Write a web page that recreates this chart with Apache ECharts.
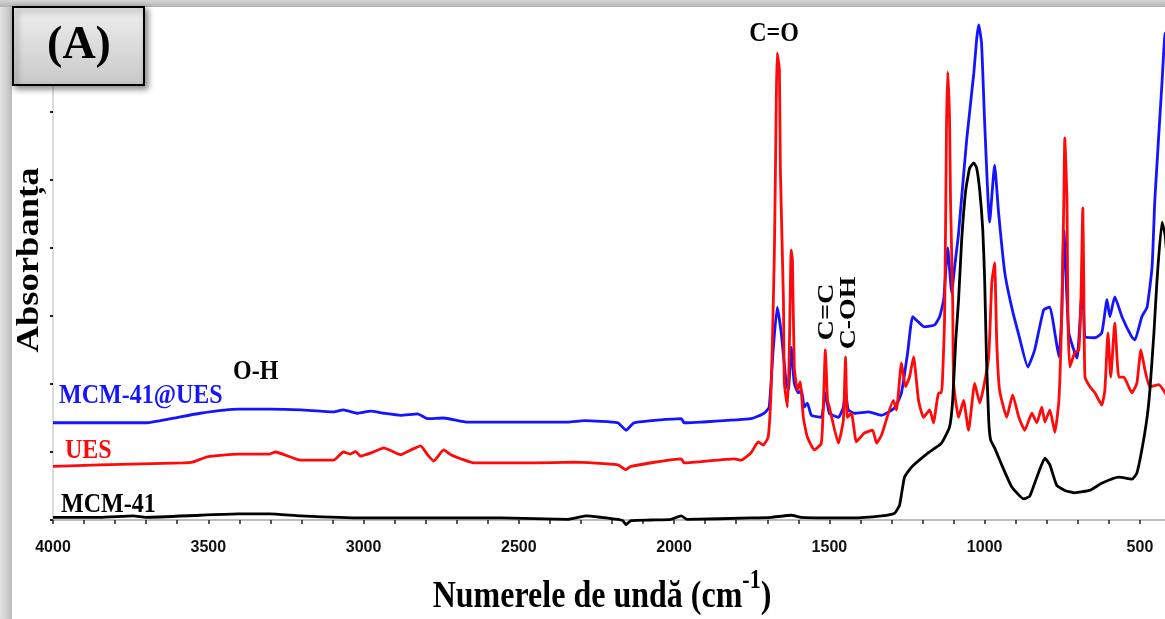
<!DOCTYPE html>
<html>
<head>
<meta charset="utf-8">
<script src="https://cdn.jsdelivr.net/npm/echarts@6/dist/echarts.min.js"></script>
<style>html,body{margin:0;padding:0;background:#fff;}#chart{width:1165px;height:619px;}</style>
</head>
<body>
<div id="chart"></div>
<script>
// ---- data: [wavenumber (cm-1), absorbance (a.u.)] ----
const xTickLabels = [4000, 3500, 3000, 2500, 2000, 1500, 1000, 500];
const seriesNames = ['MCM-41@UES', 'UES', 'MCM-41'];
const bandLabels = ['O-H', 'C=O', 'C=C', 'C-OH'];

const mcm41ues = [
  [4000,1.43],[3848,1.43],[3700,1.43],[3620,1.49],[3526,1.57],[3403,1.63],[3303,1.63],[3203,1.62],[3097,1.59],[3065,1.62],[3019,1.57],[2977,1.60],[2935,1.57],
  [2881,1.54],[2826,1.56],[2794,1.49],[2742,1.50],[2665,1.44],[2558,1.44],[2342,1.44],[2290,1.46],[2181,1.43],[2155,1.32],[2129,1.43],[1977,1.49],[1968,1.43],
  [1913,1.44],[1752,1.49],[1710,1.57],[1694,1.66],[1681,2.50],[1668,3.13],[1655,2.75],[1639,2.01],[1632,1.91],[1623,2.54],[1613,2.01],[1600,1.87],[1590,1.91],
  [1581,1.66],[1571,1.72],[1558,1.54],[1526,1.51],[1513,1.87],[1500,1.57],[1471,1.51],[1455,1.66],[1448,1.88],[1439,1.62],[1419,1.57],[1374,1.59],[1332,1.54],
  [1290,1.65],[1268,1.87],[1248,2.46],[1232,2.99],[1213,2.91],[1194,2.84],[1161,2.87],[1145,2.99],[1132,3.24],[1119,4.00],[1106,3.34],[1097,3.71],[1084,4.22],
  [1058,5.59],[1035,6.57],[1026,7.06],[1019,7.28],[1010,7.01],[1000,5.84],[984,4.38],[968,5.22],[955,4.51],[935,3.63],[913,3.13],[890,2.72],[861,2.25],
  [839,2.50],[810,3.09],[790,3.13],[774,2.75],[761,2.40],[752,2.99],[745,4.26],[729,2.75],[703,2.38],[684,3.57],[677,2.69],[645,2.68],[623,2.75],[606,3.24],
  [597,2.99],[581,3.28],[558,2.99],[526,2.69],[516,2.65],[494,2.99],[477,3.13],[461,3.72],[452,4.71],[429,6.43],[419,7.16],[416,6.99],[413,7.25],[400,7.25]
];

const ues = [
  [4000,0.79],[3848,0.81],[3581,0.84],[3552,0.85],[3503,0.93],[3403,0.97],[3303,0.97],[3284,1.00],[3203,0.88],[3097,0.88],[3065,1.00],[3042,0.97],[3026,1.01],
  [3010,0.94],[2968,1.00],[2935,1.06],[2881,0.96],[2848,1.03],[2816,1.09],[2794,0.96],[2774,0.87],[2742,1.03],[2719,0.96],[2687,0.90],[2645,0.84],[2452,0.84],
  [2323,0.85],[2181,0.81],[2155,0.74],[2139,0.79],[1977,0.90],[1968,0.84],[1806,0.90],[1784,0.88],[1752,0.99],[1729,1.15],[1713,1.10],[1697,1.22],[1687,2.01],
  [1677,3.97],[1671,6.18],[1668,6.87],[1661,6.62],[1658,5.19],[1648,3.24],[1645,2.01],[1635,1.66],[1629,2.50],[1623,3.97],[1619,3.82],[1613,2.25],[1603,1.91],
  [1594,2.03],[1584,1.51],[1571,1.22],[1548,1.03],[1526,1.13],[1519,1.76],[1513,2.50],[1506,1.76],[1500,1.66],[1471,1.13],[1455,1.47],[1448,2.40],[1442,1.51],
  [1429,1.57],[1413,1.15],[1387,1.28],[1361,1.32],[1348,1.13],[1332,1.25],[1294,1.76],[1284,1.62],[1268,2.31],[1255,1.96],[1242,2.10],[1229,2.40],[1213,1.76],
  [1197,1.51],[1177,1.62],[1165,1.43],[1148,1.87],[1139,1.87],[1129,2.99],[1123,5.74],[1119,6.59],[1113,5.88],[1110,4.71],[1103,3.24],[1100,2.01],[1084,1.51],
  [1068,1.76],[1052,1.32],[1032,2.01],[1016,1.72],[1003,1.96],[987,2.40],[977,3.49],[968,3.78],[961,2.60],[952,1.91],[929,1.51],[910,1.84],[890,1.51],[871,1.32],
  [848,1.57],[832,1.43],[816,1.66],[806,1.44],[790,1.62],[774,1.29],[761,1.76],[752,2.99],[745,4.71],[742,5.62],[735,4.71],[732,2.99],[726,2.25],[710,2.46],
  [697,2.50],[690,3.24],[684,4.59],[681,3.53],[677,2.10],[661,1.96],[645,1.87],[623,1.69],[613,1.91],[603,2.75],[594,2.10],[581,2.90],[568,2.10],[552,2.10],
  [526,1.87],[510,2.01],[497,2.50],[484,2.21],[468,1.96],[439,1.99],[419,1.87],[413,1.82],[400,1.80]
];

const mcm41 = [
  [4000,0.04],[3848,0.04],[3742,0.06],[3700,0.04],[3526,0.07],[3403,0.09],[3303,0.09],[3203,0.06],[3003,0.03],[2881,0.03],[2558,0.03],[2342,0.01],[2284,0.06],
  [2236,0.04],[2181,0.01],[2165,-0.01],[2155,-0.07],[2139,-0.01],[2074,0.00],[2010,0.01],[1977,0.06],[1958,0.01],[1752,0.03],[1687,0.04],[1623,0.07],[1590,0.04],
  [1429,0.03],[1332,0.06],[1290,0.10],[1274,0.22],[1258,0.63],[1235,0.78],[1181,0.99],[1139,1.13],[1113,1.37],[1103,1.76],[1093,2.65],[1084,3.24],[1074,4.12],
  [1061,4.85],[1048,5.18],[1035,5.25],[1026,5.18],[1016,4.85],[1006,4.26],[1000,3.53],[994,2.35],[987,1.47],[981,1.18],[968,1.06],[945,0.81],[913,0.49],
  [874,0.31],[855,0.35],[839,0.54],[823,0.74],[806,0.91],[790,0.81],[768,0.51],[740,0.43],[710,0.40],[660,0.44],[623,0.54],[568,0.63],[526,0.60],[510,0.69],
  [494,1.03],[477,1.51],[468,1.91],[455,2.75],[445,3.53],[429,4.38],[419,4.19],[413,3.90],[400,3.70]
];

const chart = echarts.init(document.getElementById('chart'), null, {renderer: 'canvas'});
const serif = '"Liberation Serif", "Times New Roman", serif';

function lbl(text, x, y, color, opts) {
  opts = opts || {};
  return {
    type: 'text', x: x, y: y, z: 50,
    rotation: opts.rotation || 0,
    scaleX: opts.scaleX || 1, scaleY: opts.scaleY || 1,
    style: {
      text: text, x: 0, y: 0, fill: color,
      font: 'bold ' + (opts.size || 24) + 'px ' + serif,
      align: opts.align || 'left', verticalAlign: 'middle',
      rich: opts.rich
    }
  };
}

const option = {
  backgroundColor: '#ffffff',
  animation: false,
  grid: {left: 53, right: -6, top: 10, bottom: 99, containLabel: false, outerBoundsMode: 'none'},
  xAxis: {
    type: 'value', inverse: true, min: 400, max: 4000, interval: 100,
    axisLine: {show: true, lineStyle: {color: '#bdbdbd', width: 2}},
    axisTick: {show: true, inside: false, length: 4, interval: 0, lineStyle: {color: '#222', width: 1.5}},
    axisLabel: {
      interval: 0, margin: 20, color: '#111', fontSize: 16, fontWeight: 'bold',
      fontFamily: '"Liberation Sans", Arial, sans-serif',
      formatter: function (v) { return xTickLabels.indexOf(v) >= 0 ? String(v) : ''; }
    },
    splitLine: {show: false}
  },
  yAxis: {
    type: 'value', min: 0, max: 7.5, interval: 1,
    axisLine: {show: true, lineStyle: {color: '#cfcfcf', width: 1.5}},
    axisTick: {show: true, inside: false, length: 3, lineStyle: {color: '#222', width: 2}},
    axisLabel: {show: false},
    splitLine: {show: false}
  },
  series: [
    {name: seriesNames[0], type: 'line', data: mcm41ues, showSymbol: false, smooth: 0.15, clip: false,
     lineStyle: {color: '#1414ff', width: 2.8}},
    {name: seriesNames[1], type: 'line', data: ues, showSymbol: false, smooth: 0.15, clip: false,
     lineStyle: {color: '#ff0a0a', width: 2.8}},
    {name: seriesNames[2], type: 'line', data: mcm41, showSymbol: false, smooth: 0.15, clip: false,
     lineStyle: {color: '#000000', width: 2.8}}
  ],
  graphic: [
    {type: 'rect', z: 40, shape: {x: 0, y: 0, width: 12, height: 619},
     style: {fill: new echarts.graphic.LinearGradient(0, 0, 1, 0, [{offset: 0, color: '#e2e2e2'}, {offset: 0.5, color: '#d2d2d2'}, {offset: 1, color: '#bcbcbc'}])}},
    {type: 'rect', z: 40, shape: {x: 0, y: 0, width: 1165, height: 7},
     style: {fill: new echarts.graphic.LinearGradient(0, 0, 0, 1, [{offset: 0, color: '#d6d6d6'}, {offset: 1, color: '#b2b2b2'}])}},
    {type: 'rect', z: 60, shape: {x: 13, y: 7, width: 131, height: 78},
     style: {fill: new echarts.graphic.LinearGradient(0, 0, 0, 1, [{offset: 0, color: '#f0f0f0'}, {offset: 1, color: '#c8c8c8'}]),
             stroke: '#000', lineWidth: 2, shadowBlur: 6, shadowOffsetX: 3, shadowOffsetY: 3, shadowColor: 'rgba(0,0,0,0.45)'}},
    Object.assign(lbl('(A)', 79, 46, '#000', {size: 46, align: 'center'}), {z: 70}),
    lbl(seriesNames[0], 59, 396, '#1414ff', {scaleY: 1.15}),
    lbl(seriesNames[1], 65, 451, '#ff0a0a', {scaleY: 1.15}),
    lbl(seriesNames[2], 61, 505, '#000', {scaleY: 1.15}),
    lbl(bandLabels[0], 233, 372, '#000', {scaleY: 1.15}),
    lbl(bandLabels[1], 774, 34, '#000', {align: 'center', scaleY: 1.15}),
    lbl(bandLabels[2], 827, 312, '#000', {align: 'center', rotation: Math.PI / 2, scaleX: 1.18}),
    lbl(bandLabels[3], 849, 313, '#000', {align: 'center', rotation: Math.PI / 2, scaleX: 1.16}),
    lbl('Absorbanța', 30, 260, '#000', {align: 'center', size: 31, rotation: Math.PI / 2, scaleX: 1.18}),
    lbl('{a|Numerele de undă (cm}{s|-1}{a|)}', 602, 592, '#000', {align: 'center', size: 32, scaleY: 1.2,
      rich: {a: {fontSize: 32, fontWeight: 'bold', fontFamily: serif, verticalAlign: 'bottom', lineHeight: 40},
             s: {fontSize: 22, fontWeight: 'bold', fontFamily: serif, verticalAlign: 'top', lineHeight: 40}}})
  ]
};
chart.setOption(option);
</script>
</body>
</html>
